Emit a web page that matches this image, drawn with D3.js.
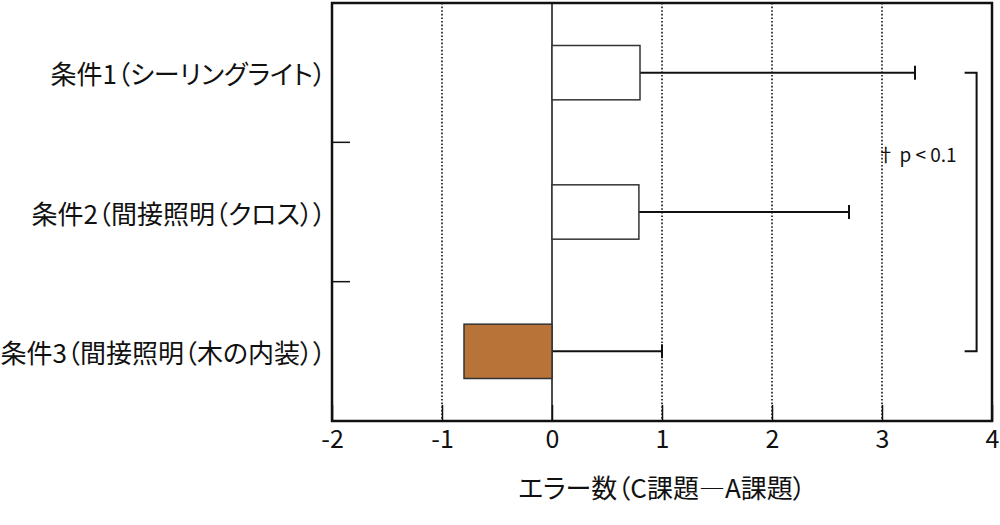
<!DOCTYPE html>
<html>
<head>
<meta charset="utf-8">
<script src="https://cdn.jsdelivr.net/npm/d3@7"></script>
<style>
  body { margin: 0; background: #fff; }
  svg text { font-family: "Noto Sans CJK JP", "Noto Sans", sans-serif; fill: #111; font-feature-settings: "palt"; }
</style>
</head>
<body>
<div id="chart"></div>
<script>
// data
const categories = ['条件1（シーリングライト）', '条件2（間接照明（クロス））', '条件3（間接照明（木の内装））'];
const means = [0.8, 0.79, -0.8];
const errorEnds = [3.3, 2.7, 1.0];
const barColors = ['#ffffff', '#ffffff', '#b87338'];
const xTicks = [-2, -1, 0, 1, 2, 3, 4];
const xTitle = 'エラー数（C課題―A課題）';
const sigLabel = '† p < 0.1';

const width = 1000, height = 525;
const margin = { top: 3, right: 8, bottom: 104, left: 332 };

const svg = d3.select('#chart').append('svg').attr('width', width).attr('height', height);

const x = d3.scaleLinear().domain([-2, 4]).range([margin.left, width - margin.right]);
const y = d3.scaleBand().domain(categories).range([margin.top, height - margin.bottom]).padding(0);
const barH = y.bandwidth() * 0.39;

// dotted grid lines, solid line at 0
svg.append('g').selectAll('line').data(xTicks.filter(d => d !== 0 && d !== -2 && d !== 4)).enter().append('line')
  .attr('x1', d => x(d)).attr('x2', d => x(d))
  .attr('y1', margin.top).attr('y2', height - margin.bottom)
  .attr('stroke', '#111').attr('stroke-width', 1.6).attr('stroke-dasharray', '1.6,2');

svg.append('line')
  .attr('x1', x(0)).attr('x2', x(0))
  .attr('y1', margin.top).attr('y2', height - margin.bottom)
  .attr('stroke', '#111').attr('stroke-width', 1.5);

// bottom axis, ticks pointing inward
const xAxis = svg.append('g')
  .attr('transform', `translate(0,${height - margin.bottom})`)
  .call(d3.axisBottom(x).tickValues(xTicks).tickSize(-16).tickPadding(9).tickFormat(d => String(d)));
xAxis.select('.domain').remove();
xAxis.selectAll('line').attr('stroke', '#111').attr('stroke-width', 1.5);
xAxis.selectAll('text').attr('font-size', 25).attr('font-family', null).attr('fill', '#111');

// left side: category separators as inward ticks
const sepVals = categories.slice(1).map(c => y(c));
svg.append('g').selectAll('line').data(sepVals).enter().append('line')
  .attr('x1', margin.left).attr('x2', margin.left + 18)
  .attr('y1', d => d).attr('y2', d => d)
  .attr('stroke', '#111').attr('stroke-width', 1.5);

svg.append('g').selectAll('text').data(categories).enter().append('text')
  .attr('x', margin.left - 6)
  .attr('y', d => y(d) + y.bandwidth() / 2)
  .attr('text-anchor', 'end').attr('dominant-baseline', 'central')
  .attr('font-size', 26)
  .text(d => d);

// error bars
const rows = categories.map((c, i) => ({ cat: c, mean: means[i], end: errorEnds[i], color: barColors[i] }));
const eb = svg.append('g');
eb.selectAll('line.whisker').data(rows).enter().append('line')
  .attr('x1', d => x(Math.max(d.mean, 0))).attr('x2', d => x(d.end))
  .attr('y1', d => y(d.cat) + y.bandwidth() / 2).attr('y2', d => y(d.cat) + y.bandwidth() / 2)
  .attr('stroke', '#111').attr('stroke-width', 2);
eb.selectAll('line.cap').data(rows).enter().append('line')
  .attr('x1', d => x(d.end)).attr('x2', d => x(d.end))
  .attr('y1', d => y(d.cat) + y.bandwidth() / 2 - 7).attr('y2', d => y(d.cat) + y.bandwidth() / 2 + 7)
  .attr('stroke', '#111').attr('stroke-width', 2);

// bars
svg.append('g').selectAll('rect').data(rows).enter().append('rect')
  .attr('x', d => x(Math.min(0, d.mean)))
  .attr('width', d => Math.abs(x(d.mean) - x(0)))
  .attr('y', d => y(d.cat) + (y.bandwidth() - barH) / 2)
  .attr('height', barH)
  .attr('fill', d => d.color)
  .attr('stroke', '#333').attr('stroke-width', 1.5);

// frame
svg.append('rect')
  .attr('x', margin.left).attr('y', margin.top)
  .attr('width', width - margin.left - margin.right)
  .attr('height', height - margin.top - margin.bottom)
  .attr('fill', 'none').attr('stroke', '#111').attr('stroke-width', 2.5);

// significance bracket between condition 1 and 3
const yTop = y(categories[0]) + y.bandwidth() / 2;
const yBot = y(categories[2]) + y.bandwidth() / 2;
const bx = x(3.86);
svg.append('path')
  .attr('d', `M${bx - 12},${yTop}H${bx}V${yBot}H${bx - 12}`)
  .attr('fill', 'none').attr('stroke', '#111').attr('stroke-width', 2);
svg.append('text')
  .attr('x', bx - 20).attr('y', 162)
  .attr('text-anchor', 'end').attr('font-size', 19)
  .text(sigLabel);

// x title
svg.append('text')
  .attr('x', x(1)).attr('y', 498)
  .attr('text-anchor', 'middle').attr('font-size', 26)
  .text(xTitle);
</script>
</body>
</html>
